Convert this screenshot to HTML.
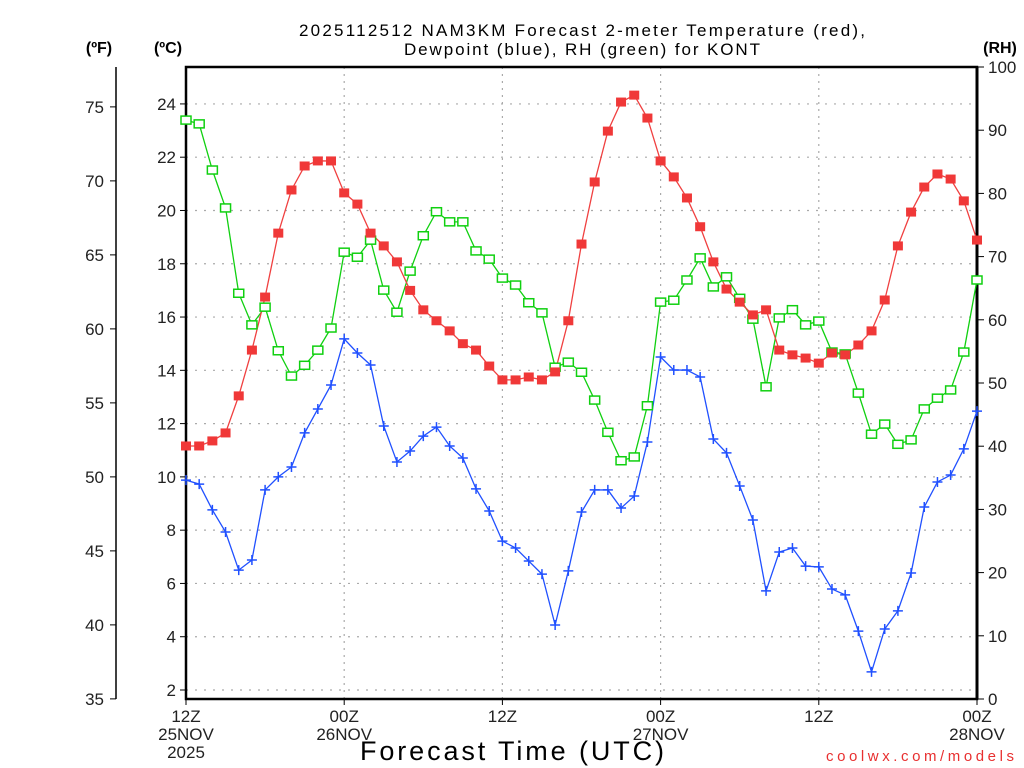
<!DOCTYPE html>
<html><head><meta charset="utf-8"><style>
html,body{margin:0;padding:0;background:#fff;}
svg{display:block;font-family:"Liberation Sans",sans-serif;}
</style></head><body>
<svg id="chart" width="1024" height="768" viewBox="0 0 1024 768" xmlns="http://www.w3.org/2000/svg">
<rect x="0" y="0" width="1024" height="768" fill="#fff"/>
<text x="299" y="36" font-size="17" textLength="566" lengthAdjust="spacing" fill="#000">2025112512 NAM3KM Forecast 2-meter Temperature (red),</text>
<text x="404" y="55" font-size="17" textLength="356" lengthAdjust="spacing" fill="#000">Dewpoint (blue), RH (green) for KONT</text>
<text x="99" y="53" font-size="16" font-weight="bold" text-anchor="middle">(ºF)</text>
<text x="168" y="53" font-size="16" font-weight="bold" text-anchor="middle">(ºC)</text>
<text x="1000" y="53" font-size="16" font-weight="bold" text-anchor="middle">(RH)</text>
<g id="grid"></g>
<g id="axes"></g>
<g id="series"></g>
<text x="360" y="760" font-size="27" textLength="304" lengthAdjust="spacing" fill="#000">Forecast Time (UTC)</text>
<text x="826" y="761" font-size="15" textLength="188" lengthAdjust="spacing" fill="#e83030">coolwx.com/models</text>
</svg>
<script>
const hours = Array.from({length:61},(_,i)=>i);
const tempC = [11.16,11.16,11.35,11.65,13.04,14.76,16.75,19.15,20.77,21.67,21.86,21.86,20.66,20.24,19.15,18.67,18.07,17.0,16.27,15.86,15.48,15.0,14.76,14.16,13.64,13.64,13.75,13.64,13.94,15.86,18.74,21.07,22.98,24.07,24.33,23.47,21.86,21.26,20.47,19.39,18.07,17.05,16.56,16.08,16.27,14.76,14.58,14.46,14.27,14.65,14.58,14.95,15.48,16.64,18.67,19.94,20.88,21.37,21.18,20.36,18.89];
const dewC = [9.88,9.73,8.76,7.93,6.50,6.88,9.51,10.0,10.37,11.65,12.55,13.45,15.18,14.65,14.2,11.91,10.56,10.97,11.53,11.87,11.16,10.71,9.55,8.72,7.59,7.33,6.84,6.35,4.44,6.47,8.68,9.51,9.51,8.83,9.28,11.31,14.5,14.01,14.01,13.75,11.42,10.9,9.66,8.38,5.72,7.18,7.33,6.65,6.62,5.79,5.57,4.21,2.68,4.29,4.97,6.39,8.87,9.81,10.07,11.05,12.47];
const rh = [91.6,91.0,83.7,77.7,64.2,59.2,62.0,55.1,51.1,52.8,55.2,58.7,70.7,69.9,72.6,64.7,61.2,67.7,73.3,77.1,75.5,75.5,70.9,69.6,66.6,65.5,62.7,61.1,52.5,53.3,51.7,47.3,42.2,37.7,38.3,46.4,62.8,63.1,66.3,69.8,65.2,66.8,63.4,60.1,49.4,60.3,61.6,59.2,59.8,54.9,54.6,48.4,41.9,43.5,40.3,41.0,45.9,47.6,48.9,54.9,66.3];
const cTicks = [2,4,6,8,10,12,14,16,18,20,22,24];
const fTicks = [35,40,45,50,55,60,65,70,75];
const rhTicks = [0,10,20,30,40,50,60,70,80,90,100];
const xTickHours = [0,12,24,36,48,60];
const xTickLabels = [["12Z","25NOV","2025"],["00Z","26NOV"],["12Z"],["00Z","27NOV"],["12Z"],["00Z","28NOV"]];

const L=186,R=977,T=67,B=699;
const xS=h=>L+(R-L)*h/60;
const yC=c=>690-(c-2)*26.64;
const yF=f=>yC((f-32)*5/9);
const yRH=v=>B-(B-T)*v/100;
const NS="http://www.w3.org/2000/svg";
function mk(tag,attrs,parent){const e=document.createElementNS(NS,tag);for(const k in attrs)e.setAttribute(k,attrs[k]);parent.appendChild(e);return e;}
const grid=document.getElementById('grid'),axes=document.getElementById('axes'),ser=document.getElementById('series');

cTicks.forEach(c=>{
  const g=mk('line',{x1:L,x2:R,y1:yC(c),y2:yC(c),stroke:'#aaa','stroke-width':1.2,'stroke-dasharray':'2,7'},grid);
  
  
  const t=mk('line',{x1:L-6,x2:L,y1:yC(c),y2:yC(c),stroke:'#000','stroke-width':1},axes);
  
  
  const lb=mk('text',{x:L-10,y:yC(c)+6,'font-size':17,'text-anchor':'end',fill:'#222'},axes);
  lb.textContent=c;
  
  
});
xTickHours.forEach((h,i)=>{
  if(h>0&&h<60){const v=mk('line',{x1:xS(h),x2:xS(h),y1:T,y2:B,stroke:'#aaa','stroke-width':1.2,'stroke-dasharray':'2,5'},grid);
  
  }
  const t=mk('line',{x1:xS(h),x2:xS(h),y1:B,y2:B+6,stroke:'#000','stroke-width':1},axes);
  
  
  xTickLabels[i].forEach((s,j)=>{
    const lb=mk('text',{x:xS(h),y:722+j*18,'font-size':17,'text-anchor':'middle',fill:'#222'},axes);
    lb.textContent=s;
    
    
  });
});
const fl=mk('line',{x1:116,x2:116,y1:T,y2:B,stroke:'#000','stroke-width':1.5},axes);


fTicks.forEach(f=>{
  const t=mk('line',{x1:110,x2:116,y1:yF(f),y2:yF(f),stroke:'#000','stroke-width':1},axes);
  
  
  const lb=mk('text',{x:104,y:yF(f)+6,'font-size':17,'text-anchor':'end',fill:'#222'},axes);
  lb.textContent=f;
  
  
});
rhTicks.forEach(v=>{
  const t=mk('line',{x1:R,x2:R+7,y1:yRH(v),y2:yRH(v),stroke:'#000','stroke-width':1},axes);
  
  
  const lb=mk('text',{x:988,y:yRH(v)+6,'font-size':17,'text-anchor':'start',fill:'#222'},axes);
  lb.textContent=v;
  
  
});
const fr=mk('rect',{x:L,y:T,width:R-L,height:B-T,fill:'none',stroke:'#000','stroke-width':2.5},axes);


const rr=mk('line',{x1:R,x2:R,y1:T,y2:B,stroke:'#000','stroke-width':3},axes);



function line(vals,yf,color,name){
  const p=mk('polyline',{points:vals.map((v,i)=>xS(hours[i])+','+yf(v)).join(' '),fill:'none',stroke:color,'stroke-width':1.3},ser);
  
  
}
line(rh,yRH,'#10d010','rh-line');
line(tempC,yC,'#f04040','temperature-line');
line(dewC,yC,'#2050ff','dewpoint-line');
rh.forEach((v,i)=>{
  const m=mk('rect',{x:xS(hours[i])-5,y:yRH(v)-4,width:10,height:8,fill:'#fff',stroke:'#10d010','stroke-width':1.5},ser);
  
  
});
tempC.forEach((v,i)=>{
  const m=mk('rect',{x:xS(hours[i])-5,y:yC(v)-4.5,width:10,height:9,fill:'#f03838'},ser);
  
  
});
dewC.forEach((v,i)=>{
  const x=xS(hours[i]),y=yC(v);
  const m=mk('path',{d:`M${x-5},${y}H${x+5}M${x},${y-5}V${y+5}`,stroke:'#2050ff','stroke-width':1.5,fill:'none'},ser);
  
  
});
</script>
</body></html>
